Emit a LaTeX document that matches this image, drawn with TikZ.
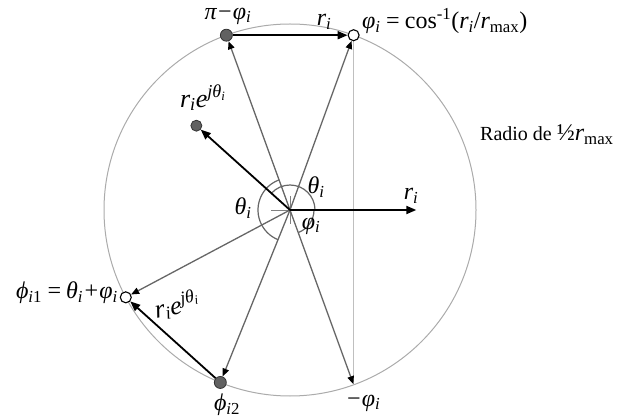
\documentclass[tikz,border=0pt]{standalone}
\usepackage{fontspec}
\setmainfont{Liberation Serif}
\usetikzlibrary{arrows.meta}
\newcommand\lsb[1]{\textsubscript{#1}}
\newcommand\lsp[1]{\textsuperscript{#1}}
\begin{document}
\begin{tikzpicture}[x=1pt,y=1pt,
  ray/.style={draw=black!60, line width=1.3pt, -{Triangle[length=8pt,width=6.5pt,color=black]}},
  vec/.style={draw=black, line width=1.8pt, -{Triangle[length=10pt,width=8pt]}},
  dot/.style={circle, fill=black!62, draw=black!80, line width=0.8pt, inner sep=0pt, minimum size=12pt},
  odot/.style={circle, fill=white, draw=black, line width=1.1pt, inner sep=0pt, minimum size=11pt},
  pt/.style={circle, inner sep=0pt, minimum size=1pt},
  lbl/.style={font=\fontsize{24}{28}\selectfont\itshape, inner sep=0pt},
  slbl/.style={font=\fontsize{26}{30}\selectfont\itshape, inner sep=0pt},
  ang/.style={draw=black!60, line width=1.2pt}]
\useasboundingbox (0,-419) rectangle (644,0);
\coordinate (O) at (290,-210);
% big circle (radius 1/2 r_max)
\draw[black!33, line width=1pt] (O) circle (186);
% chord
\draw[black!25, line width=1.3pt] ([shift={(70:186)}]O) -- ([shift={(-70:186)}]O);
% points
\node[dot]  (A) at ([shift={(110:186)}]O) {};
\node[odot] (B) at ([shift={(70:186)}]O) {};
\node[odot] (C) at ([shift={(208:186)}]O) {};
\node[dot]  (D) at ([shift={(248:186)}]O) {};
\node[pt]   (E) at ([shift={(-70:186)}]O) {};
\node[dot, minimum size=11pt] (F) at ([shift={(138:126)}]O) {};
\node[pt]   (G) at ([shift={(0:127)}]O) {};
% small cross at centre
\draw[black!50, line width=0.9pt] ([shift={(-19,0)}]O) -- (O);
\draw[black!50, line width=0.9pt] ([shift={(0,14)}]O) -- ([shift={(0,-14)}]O);
% angle arcs
\draw[ang] ([shift={(0:25)}]O) arc[start angle=0, end angle=138, radius=25];
\draw[ang] ([shift={(110:32)}]O) arc[start angle=110, end angle=248, radius=32];
\draw[ang] ([shift={(0:24)}]O) arc[start angle=0, end angle=-70, radius=24];
% rays
\draw[ray] (O) -- (A);
\draw[ray] (O) -- (B);
\draw[ray] (O) -- (C);
\draw[ray] (O) -- (D);
\draw[ray] (O) -- (E);
% vectors
\draw[vec] (O) -- (F);
\draw[vec] (O) -- (G);
\draw[vec] (A) -- (B);
\draw[vec] (D) -- (C);
% labels
\node[lbl] (lA) at (228,-16) {π−φ\lsb{i}};
\node[lbl] (lr1) at (324,-22) {r\lsb{i}};
\node[lbl, anchor=west] (lB) at (362,-21) {φ\lsb{i}\,=\,\upshape cos\lsp{-1}(\itshape r\lsb{i}\upshape /\itshape r\lsb{\upshape max}\upshape )};
\node[slbl] (lF) at (203,-98) {r\lsb{i}e\lsp{jθ\lsb{i}}};
\node[lbl] (lt1) at (316,-187) {θ\lsb{i}};
\node[lbl] (lt2) at (243,-208) {θ\lsb{i}};
\node[lbl] (lp) at (311,-226) {φ\lsb{i}};
\node[lbl] (lr2) at (411,-196) {r\lsb{i}};
\node[anchor=west, inner sep=0pt] (rad) at (480,-135) {\fontsize{20}{24}\selectfont Radio de \fontsize{24}{28}\selectfont ½\itshape r\lsb{\upshape max}};
\node[lbl, anchor=east] (lC) at (118,-293) {ϕ\lsb{i\upshape 1}\,=\,θ\lsb{i}+φ\lsb{i}};
\node[slbl, rotate=11] (lDC) at (177,-305) {r\lsb{i}e\lsp{jθ\lsb{i}}};
\node[lbl] (lD) at (227,-405) {ϕ\lsb{i\upshape 2}};
\node[lbl] (lE) at (363,-403) {−φ\lsb{i}};
\end{tikzpicture}
\end{document}
